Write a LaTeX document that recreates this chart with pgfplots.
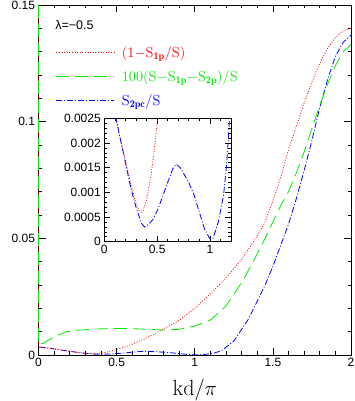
\documentclass[border=0pt]{standalone}
\usepackage{fontspec}
\usepackage{pgfplots}
\usepackage{pgfplotstable}
\pgfplotsset{compat=1.18}
\newfontfamily\hv{Liberation Sans}
\definecolor{cred}{RGB}{255,0,0}
\definecolor{cgreen}{RGB}{0,235,0}
\definecolor{cblue}{RGB}{0,0,255}

% 1 - S_1p/S (off scale at kd = 0)
\pgfplotstableread{
x y
0 0.15
0.0 0.0035
0.02 0.0033
0.05 0.0030
0.08 0.0028
0.11 0.0025
0.15 0.0021
0.2 0.00165
0.25 0.00118
0.3 0.00078
0.33 0.00063
0.35 0.00060
0.37 0.00064
0.4 0.00085
0.44 0.00130
0.47 0.00180
0.5 0.00240
0.55 0.0034
0.6 0.0046
0.7 0.0076
0.8 0.0112
0.9 0.0148
1.0 0.0200
1.1 0.0262
1.2 0.0330
1.3 0.0410
1.4 0.0510
1.45 0.0570
1.5 0.0660
1.55 0.0760
1.6 0.0880
1.65 0.0980
1.7 0.1080
1.75 0.1170
1.8 0.1250
1.85 0.1315
1.9 0.1360
1.95 0.1390
2.0 0.1400
}\tred

% 100(S - S_1p - S_2p)/S (off scale at kd = 0)
\pgfplotstableread{
x y
0 0.15
0.0 0.0046
0.03 0.0050
0.1 0.0078
0.18 0.0100
0.25 0.0106
0.35 0.0111
0.5 0.0114
0.6 0.0113
0.7 0.0110
0.8 0.0107
0.9 0.0110
1.0 0.0124
1.1 0.0150
1.2 0.0210
1.3 0.0310
1.38 0.0407
1.45 0.0500
1.5 0.0570
1.55 0.0640
1.6 0.0700
1.65 0.0780
1.7 0.0870
1.75 0.0970
1.8 0.1070
1.85 0.1160
1.9 0.1240
1.95 0.1300
2.0 0.1330
}\tgreen

% S_2pc/S
\pgfplotstableread{
x y
0.002 0.0034
0.05 0.0031
0.1 0.0026
0.15 0.0021
0.2 0.0016
0.25 0.0011
0.3 0.0007
0.35 0.00038
0.38 0.00030
0.42 0.00035
0.46 0.00045
0.5 0.00062
0.55 0.00090
0.6 0.00120
0.65 0.00148
0.68 0.00157
0.72 0.00150
0.8 0.00120
0.85 0.00095
0.9 0.00060
0.95 0.00025
1.0 0.00006
1.03 0.00007
1.08 0.00040
1.13 0.00095
1.16 0.00160
1.18 0.00226
1.2 0.0033
1.25 0.0060
1.3 0.0110
1.34 0.0150
1.4 0.0230
1.45 0.0300
1.5 0.0380
1.55 0.0470
1.6 0.0560
1.65 0.0670
1.7 0.0790
1.75 0.0920
1.8 0.1060
1.85 0.1180
1.9 0.1280
1.95 0.1340
2.0 0.1370
}\tblue

\pgfplotsset{
  frame/.style={
    scale only axis,
    set layers,
    axis line style={black, line width=0.8pt},
    tick style={black, line width=0.6pt},
    tick align=inside,
    major tick length=7pt,
    minor tick length=3.5pt,
    tick label style={font=\hv\fontsize{12}{14}\selectfont},
    /pgf/number format/assume math mode=true,
    /pgf/number format/fixed,
    scaled ticks=false,
  },
  redline/.style={cred, line width=0.8pt, dash pattern=on 0.9pt off 1.7pt},
  greenline/.style={cgreen, line width=0.8pt, dash pattern=on 13pt off 6pt},
  blueline/.style={cblue, line width=0.8pt, dash pattern=on 6pt off 2pt on 1pt off 2pt},
}

\begin{document}
\begin{tikzpicture}
\begin{axis}[
    frame,
    clip=false,
    width=312.5pt, height=350pt,
    xmin=0, xmax=2, ymin=0, ymax=0.15,
    xtick={0,0.5,1,1.5,2},
    ytick={0,0.05,0.1,0.15},
    minor xtick={0,0.1,...,2},
    minor ytick={0,0.01,...,0.15},
    /pgf/number format/precision=2,
    xlabel={kd/$\pi$},
    xlabel style={font=\fontsize{22}{25}\selectfont, yshift=-5pt},
    legend cell align=left,
    legend style={at={(axis description cs:0.046,0.893)}, anchor=north west,
        draw=none, fill=none, row sep=7.5pt,
        font=\fontsize{14.5}{16}\selectfont,
        /tikz/every odd column/.append style={column sep=5pt}},
    legend image code/.code={\draw[#1] (0pt,0pt) -- (58pt,0pt);},
]
\addplot[redline, on layer=axis foreground] table[x=x,y=y]{\tred};
\addlegendentry{\textcolor{cred}{(1$-$S$_{\mathbf{1p}}$/S)}}
\addplot[greenline, on layer=axis foreground] table[x=x,y=y]{\tgreen};
\addlegendentry{\textcolor{cgreen}{100(S$-$S$_{\mathbf{1p}}$$-$S$_{\mathbf{2p}}$)/S}}
\addplot[blueline] table[x=x,y=y]{\tblue};
\addlegendentry{\textcolor{cblue}{S$_{\mathbf{2pc}}$/S}}
\node[anchor=west, font=\hv\fontsize{12.5}{14}\selectfont, inner sep=0pt]
    at (axis description cs:0.053,0.943) {λ=−0.5};
\coordinate (bl) at (rel axis cs:0,0);
\coordinate (tr) at (rel axis cs:1,1);
\end{axis}

\begin{axis}[
    frame,
    at={(65.8pt,113.3pt)}, anchor=south west,
    width=126.7pt, height=123.4pt,
    xmin=0, xmax=1.2, ymin=0, ymax=0.0025,
    xtick={0,0.5,1},
    ytick={0,0.0005,0.001,0.0015,0.002,0.0025},
    minor xtick={0,0.1,...,1.2},
    minor ytick={0,0.0001,...,0.0025},
    major tick length=6pt,
    minor tick length=3pt,
    /pgf/number format/precision=4,
    restrict y to domain=-1:0.05,
    restrict x to domain=-1:1.4,
]
\addplot[redline] table[x=x,y=y]{\tred};
\addplot[blueline] table[x=x,y=y]{\tblue};
\end{axis}

\pgfresetboundingbox
\path ([shift={(-38.5pt,-46pt)}]bl) rectangle ([shift={(3pt,5pt)}]tr);
\end{tikzpicture}
\end{document}
